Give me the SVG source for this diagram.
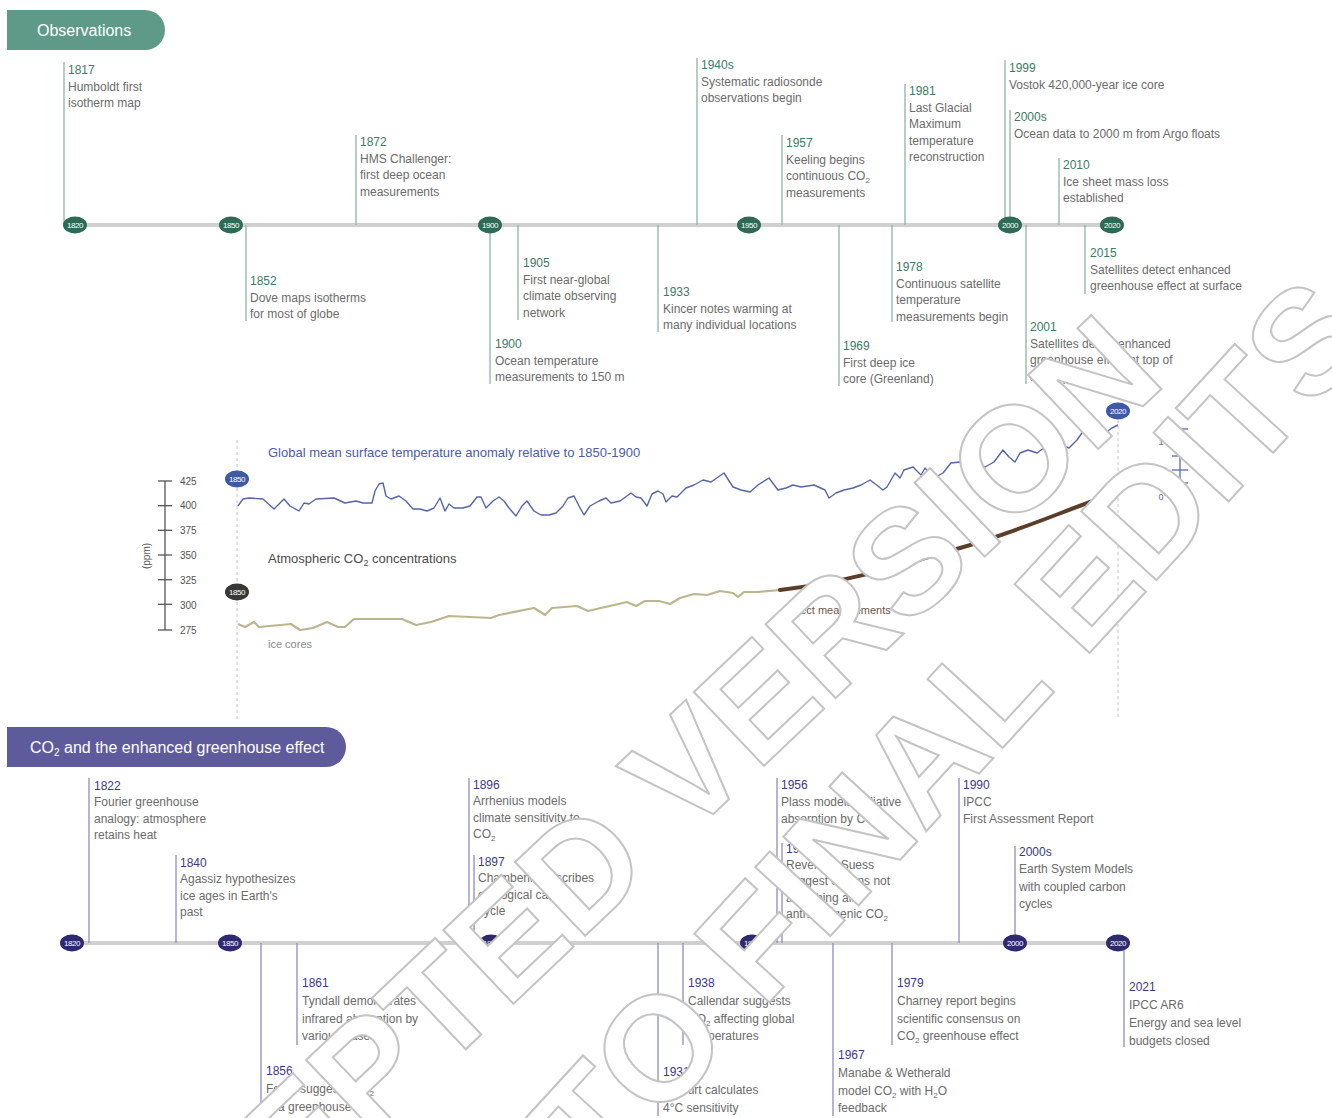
<svg xmlns="http://www.w3.org/2000/svg" width="1332" height="1118" viewBox="0 0 1332 1118">
<style>
text{font-family:"Liberation Sans",Arial,sans-serif}
.ds{font-size:12px;fill:#6b6b6b}
.yg{fill:#3d7a66}
.yp{fill:#3b3985}
.lg{stroke:#8fb3a8;stroke-width:1.3;fill:none}
.lp{stroke:#8e8cc0;stroke-width:1.3;fill:none}
.axis{stroke:#d0d0d0;stroke-width:4}
.bg{fill:#2f6a57}
.bp{fill:#2d2b6e}
.bt{font-size:8px;fill:#fff;text-anchor:middle;letter-spacing:-0.4px}
.tick{stroke:#555;stroke-width:1.3}
.tl{font-size:10px;fill:#555}
.wm{font-size:148px;font-weight:bold;fill:#fff;stroke:#c4c4c4;stroke-width:2}
</style>
<rect width="1332" height="1118" fill="#fff"/>

<!-- headers -->
<g id="hdr-obs">
<path d="M7,10 H145 A20,20 0 0 1 145,50 H7 Z" fill="#5f9a89"/>
<text x="37" y="36" font-size="16" fill="#fff">Observations</text>
</g>
<g id="hdr-co2">
<path d="M7,727 H326 A20,20 0 0 1 326,767 H7 Z" fill="#5e5b9d"/>
<text x="30" y="753" font-size="16" fill="#fff">CO<tspan font-size="10" baseline-shift="-3">2</tspan> and the enhanced greenhouse effect</text>
</g>

<!-- connectors: axes and event stems -->
<g id="connectors">
<line class="axis" x1="75" y1="225" x2="1112" y2="225"/>
<line class="axis" x1="72" y1="943" x2="1118" y2="943"/>
<line class="lg" x1="64" y1="62" x2="64" y2="225"/>
<line class="lg" x1="356" y1="135" x2="356" y2="225"/>
<line class="lg" x1="697" y1="58" x2="697" y2="225"/>
<line class="lg" x1="782" y1="135" x2="782" y2="225"/>
<line class="lg" x1="905" y1="84" x2="905" y2="225"/>
<line class="lg" x1="1005" y1="60" x2="1005" y2="225"/>
<line class="lg" x1="1010" y1="110" x2="1010" y2="225"/>
<line class="lg" x1="1059" y1="158" x2="1059" y2="225"/>
<line class="lg" x1="246" y1="225" x2="246" y2="321"/>
<line class="lg" x1="518" y1="225" x2="518" y2="320"/>
<line class="lg" x1="490" y1="225" x2="490" y2="384"/>
<line class="lg" x1="658" y1="225" x2="658" y2="332"/>
<line class="lg" x1="839" y1="225" x2="839" y2="386"/>
<line class="lg" x1="892" y1="225" x2="892" y2="322"/>
<line class="lg" x1="1026" y1="225" x2="1026" y2="384"/>
<line class="lg" x1="1085" y1="225" x2="1085" y2="294"/>
<line class="lp" x1="89" y1="778" x2="89" y2="943"/>
<line class="lp" x1="176" y1="855" x2="176" y2="943"/>
<line class="lp" x1="469" y1="778" x2="469" y2="943"/>
<line class="lp" x1="474" y1="855" x2="474" y2="943"/>
<line class="lp" x1="777" y1="778" x2="777" y2="943"/>
<line class="lp" x1="782" y1="843" x2="782" y2="943"/>
<line class="lp" x1="959" y1="778" x2="959" y2="943"/>
<line class="lp" x1="1015" y1="846" x2="1015" y2="943"/>
<line class="lp" x1="261" y1="943" x2="261" y2="1116"/>
<line class="lp" x1="297" y1="943" x2="297" y2="1045"/>
<line class="lp" x1="658" y1="943" x2="658" y2="1116"/>
<line class="lp" x1="683" y1="943" x2="683" y2="1045"/>
<line class="lp" x1="833" y1="943" x2="833" y2="1116"/>
<line class="lp" x1="892" y1="943" x2="892" y2="1045"/>
<line class="lp" x1="1124" y1="943" x2="1124" y2="1047"/>
</g>

<g id="badges-obs">
<ellipse class="bg" cx="75" cy="225" rx="12" ry="8.5"/><text class="bt" x="75" y="228">1820</text>
<ellipse class="bg" cx="231" cy="225" rx="12" ry="8.5"/><text class="bt" x="231" y="228">1850</text>
<ellipse class="bg" cx="490" cy="225" rx="12" ry="8.5"/><text class="bt" x="490" y="228">1900</text>
<ellipse class="bg" cx="749" cy="225" rx="12" ry="8.5"/><text class="bt" x="749" y="228">1950</text>
<ellipse class="bg" cx="1010" cy="225" rx="12" ry="8.5"/><text class="bt" x="1010" y="228">2000</text>
<ellipse class="bg" cx="1112" cy="225" rx="12" ry="8.5"/><text class="bt" x="1112" y="228">2020</text>
</g>
<g id="badges-co2">
<ellipse class="bp" cx="72" cy="943" rx="12" ry="8.5"/><text class="bt" x="72" y="946">1820</text>
<ellipse class="bp" cx="230" cy="943" rx="12" ry="8.5"/><text class="bt" x="230" y="946">1850</text>
<ellipse class="bp" cx="491" cy="943" rx="12" ry="8.5"/><text class="bt" x="491" y="946">1900</text>
<ellipse class="bp" cx="752" cy="943" rx="12" ry="8.5"/><text class="bt" x="752" y="946">1950</text>
<ellipse class="bp" cx="1015" cy="943" rx="12" ry="8.5"/><text class="bt" x="1015" y="946">2000</text>
<ellipse class="bp" cx="1118" cy="943" rx="12" ry="8.5"/><text class="bt" x="1118" y="946">2020</text>
</g>

<g id="ev-1817"><text class="ds" x="68" y="74"><tspan class="yg">1817</tspan><tspan x="68" dy="16.6">Humboldt first</tspan><tspan x="68" dy="16.6">isotherm map</tspan></text></g>
<g id="ev-1872"><text class="ds" x="360" y="146"><tspan class="yg">1872</tspan><tspan x="360" dy="16.6">HMS Challenger:</tspan><tspan x="360" dy="16.6">first deep ocean</tspan><tspan x="360" dy="16.6">measurements</tspan></text></g>
<g id="ev-1940s"><text class="ds" x="701" y="69"><tspan class="yg">1940s</tspan><tspan x="701" dy="16.6">Systematic radiosonde</tspan><tspan x="701" dy="16.6">observations begin</tspan></text></g>
<g id="ev-1957k"><text class="ds" x="786" y="147"><tspan class="yg">1957</tspan><tspan x="786" dy="16.6">Keeling begins</tspan><tspan x="786" dy="16.6">continuous CO<tspan font-size="8" baseline-shift="-3">2</tspan></tspan><tspan x="786" dy="16.6">measurements</tspan></text></g>
<g id="ev-1981"><text class="ds" x="909" y="95"><tspan class="yg">1981</tspan><tspan x="909" dy="16.6">Last Glacial</tspan><tspan x="909" dy="16.6">Maximum</tspan><tspan x="909" dy="16.6">temperature</tspan><tspan x="909" dy="16.6">reconstruction</tspan></text></g>
<g id="ev-1999"><text class="ds" x="1009" y="72"><tspan class="yg">1999</tspan><tspan x="1009" dy="16.6">Vostok 420,000-year ice core</tspan></text></g>
<g id="ev-2000s-o"><text class="ds" x="1014" y="121"><tspan class="yg">2000s</tspan><tspan x="1014" dy="16.6">Ocean data to 2000 m from Argo floats</tspan></text></g>
<g id="ev-2010"><text class="ds" x="1063" y="169"><tspan class="yg">2010</tspan><tspan x="1063" dy="16.6">Ice sheet mass loss</tspan><tspan x="1063" dy="16.6">established</tspan></text></g>
<g id="ev-1852"><text class="ds" x="250" y="285"><tspan class="yg">1852</tspan><tspan x="250" dy="16.6">Dove maps isotherms</tspan><tspan x="250" dy="16.6">for most of globe</tspan></text></g>
<g id="ev-1905"><text class="ds" x="523" y="267"><tspan class="yg">1905</tspan><tspan x="523" dy="16.6">First near-global</tspan><tspan x="523" dy="16.6">climate observing</tspan><tspan x="523" dy="16.6">network</tspan></text></g>
<g id="ev-1900"><text class="ds" x="495" y="348"><tspan class="yg">1900</tspan><tspan x="495" dy="16.6">Ocean temperature</tspan><tspan x="495" dy="16.6">measurements to 150 m</tspan></text></g>
<g id="ev-1933"><text class="ds" x="663" y="296"><tspan class="yg">1933</tspan><tspan x="663" dy="16.6">Kincer notes warming at</tspan><tspan x="663" dy="16.6">many individual locations</tspan></text></g>
<g id="ev-1969"><text class="ds" x="843" y="350"><tspan class="yg">1969</tspan><tspan x="843" dy="16.6">First deep ice</tspan><tspan x="843" dy="16.6">core (Greenland)</tspan></text></g>
<g id="ev-1978"><text class="ds" x="896" y="271"><tspan class="yg">1978</tspan><tspan x="896" dy="16.6">Continuous satellite</tspan><tspan x="896" dy="16.6">temperature</tspan><tspan x="896" dy="16.6">measurements begin</tspan></text></g>
<g id="ev-2001"><text class="ds" x="1030" y="331"><tspan class="yg">2001</tspan><tspan x="1030" dy="16.6">Satellites detect enhanced</tspan><tspan x="1030" dy="16.6">greenhouse effect at top of</tspan><tspan x="1030" dy="16.6">atmosphere</tspan></text></g>
<g id="ev-2015"><text class="ds" x="1090" y="257"><tspan class="yg">2015</tspan><tspan x="1090" dy="16.6">Satellites detect enhanced</tspan><tspan x="1090" dy="16.6">greenhouse effect at surface</tspan></text></g>

<g id="chart">
<line x1="237" y1="440" x2="237" y2="720" stroke="#c4c4c4" stroke-width="1" stroke-dasharray="3,3"/>
<line x1="1118" y1="420" x2="1118" y2="720" stroke="#c4c4c4" stroke-width="1" stroke-dasharray="3,3"/>
<g id="ppm-axis">
<line class="tick" x1="165" y1="481" x2="165" y2="630"/>
<line class="tick" x1="158" y1="481" x2="172" y2="481"/>
<line class="tick" x1="158" y1="505.7" x2="172" y2="505.7"/>
<line class="tick" x1="158" y1="530.3" x2="172" y2="530.3"/>
<line class="tick" x1="158" y1="555" x2="172" y2="555"/>
<line class="tick" x1="158" y1="579.7" x2="172" y2="579.7"/>
<line class="tick" x1="158" y1="604.3" x2="172" y2="604.3"/>
<line class="tick" x1="158" y1="630" x2="172" y2="630"/>
<text class="tl" x="180" y="485">425</text>
<text class="tl" x="180" y="509">400</text>
<text class="tl" x="180" y="534">375</text>
<text class="tl" x="180" y="559">350</text>
<text class="tl" x="180" y="584">325</text>
<text class="tl" x="180" y="609">300</text>
<text class="tl" x="180" y="634">275</text>
<text class="tl" transform="translate(150,556) rotate(-90)" text-anchor="middle" font-size="11">(ppm)</text>
</g>
<g id="temp-scale">
<line x1="1180" y1="429" x2="1180" y2="497" stroke="#5a6ab0" stroke-width="1.3"/>
<line x1="1172" y1="429" x2="1188" y2="429" stroke="#5a6ab0" stroke-width="1.3"/>
<line x1="1172" y1="442" x2="1188" y2="442" stroke="#5a6ab0" stroke-width="1.3"/>
<line x1="1172" y1="456" x2="1188" y2="456" stroke="#5a6ab0" stroke-width="1.3"/>
<line x1="1172" y1="470" x2="1188" y2="470" stroke="#5a6ab0" stroke-width="1.3"/>
<line x1="1172" y1="483" x2="1188" y2="483" stroke="#5a6ab0" stroke-width="1.3"/>
<line x1="1172" y1="497" x2="1188" y2="497" stroke="#5a6ab0" stroke-width="1.3"/>
<text x="1167" y="445" font-size="9" fill="#5a6ab0" text-anchor="end">1°</text>
<text x="1167" y="473" font-size="8" fill="#5a6ab0" text-anchor="end">0.5°</text>
<text x="1167" y="500" font-size="9" fill="#5a6ab0" text-anchor="end">0°</text>
<text transform="translate(1196,457) rotate(-90)" font-size="10" fill="#5a6ab0" text-anchor="middle">°C</text>
</g>
<text x="268" y="457" font-size="13" fill="#4b5ba8">Global mean surface temperature anomaly relative to 1850-1900</text>
<polyline fill="none" stroke="#5565a8" stroke-width="1.4" stroke-linejoin="round" points="237.9,506 243,499 249,498 263,499 274,509 284,499 290,506 299,511 304,503 309,504 316,499 334,498 345,503 356,501 363,503 372,503 375,491 379,484 383,483 386,496 391,499 399,496 406,501 413,509 420,509 427,511 434,508 440,498 445,511 449,504 454,508 463,508 470,506 477,497 481,497 486,508 493,501 499,497 504,501 509,508 516,516 522,506 527,501 534,511 541,515 549,515 556,513 563,506 568,498 574,496 579,506 584,515 590,506 599,501 606,498 611,503 620,501 631,493 636,497 641,498 647,506 652,494 658,491 663,494 666,502 672,496 677,497 686,488 694,485 703,480 711,482 724,473 733,487 741,490 750,492 758,485 769,478 778,490 786,488 793,485 801,487 814,485 825,490 829,498 836,493 844,490 853,488 861,485 870,480 874,483 883,490 887,487 891,480 895,473 900,478 904,470 913,467 921,475 925,468 934,478 943,473 951,463 960,462 966,465 973,472 979,463 985,467 994,462 1003,450 1009,457 1015,462 1020,453 1028,450 1037,453 1045,447 1054,448 1062,445 1069,448 1077,440 1084,430 1090,427 1097,432 1105,433 1112,428 1118,425"/>
<text x="268" y="563" font-size="13" fill="#4a4a4a">Atmospheric CO<tspan font-size="9" baseline-shift="-3">2</tspan> concentrations</text>
<polyline fill="none" stroke="#bdb590" stroke-width="2.2" stroke-linejoin="round" points="238,624 245,627 254,622 259,627 291,624 300,630 313,628 327,622 338,627 345,627 354,619 370,619 402,619 416,625 431,622 449,616 491,618 499,615 534,608 545,615 552,608 577,606 588,611 627,602 636,606 645,601 659,601 670,604 680,598 694,594 707,595 720,591 733,593 738,597 744,592 758,592 780,590"/>
<path d="M780,590 C850,582 900,565 960,548 S1060,512 1118,492" fill="none" stroke="#5b3e29" stroke-width="4" stroke-linecap="round"/>
<text x="268" y="648" font-size="11" fill="#8a8a8a">ice cores</text>
<text x="788" y="614" font-size="11" fill="#6e5444">direct measurements</text>
<ellipse cx="237" cy="479" rx="12" ry="8.5" fill="#3f5aa0"/><text class="bt" x="237" y="482">1850</text>
<ellipse cx="1118" cy="411" rx="12" ry="8.5" fill="#3f5aa0"/><text class="bt" x="1118" y="414">2020</text>
<ellipse cx="237" cy="592" rx="12" ry="8.5" fill="#3a3836"/><text class="bt" x="237" y="595">1850</text>
<ellipse cx="1118" cy="530" rx="12" ry="8.5" fill="#3a3836"/><text class="bt" x="1118" y="533">2020</text>
</g>

<g id="ev-1822"><text class="ds" x="94" y="790"><tspan class="yp">1822</tspan><tspan x="94" dy="16.4">Fourier greenhouse</tspan><tspan x="94" dy="16.4">analogy: atmosphere</tspan><tspan x="94" dy="16.4">retains heat</tspan></text></g>
<g id="ev-1840"><text class="ds" x="180" y="867"><tspan class="yp">1840</tspan><tspan x="180" dy="16.4">Agassiz hypothesizes</tspan><tspan x="180" dy="16.4">ice ages in Earth's</tspan><tspan x="180" dy="16.4">past</tspan></text></g>
<g id="ev-1896"><text class="ds" x="473" y="789"><tspan class="yp">1896</tspan><tspan x="473" dy="16.4">Arrhenius models</tspan><tspan x="473" dy="16.4">climate sensitivity to</tspan><tspan x="473" dy="16.4">CO<tspan font-size="8" baseline-shift="-3">2</tspan></tspan></text></g>
<g id="ev-1897"><text class="ds" x="478" y="866"><tspan class="yp">1897</tspan><tspan x="478" dy="16.4">Chamberlin describes</tspan><tspan x="478" dy="16.4">geological carbon</tspan><tspan x="478" dy="16.4">cycle</tspan></text></g>
<g id="ev-1956"><text class="ds" x="781" y="789"><tspan class="yp">1956</tspan><tspan x="781" dy="16.8">Plass models radiative</tspan><tspan x="781" dy="16.8">absorption by CO<tspan font-size="8" baseline-shift="-3">2</tspan></tspan></text></g>
<g id="ev-1957r"><text class="ds" x="786" y="853"><tspan class="yp">1957</tspan><tspan x="786" dy="16.2">Revelle &amp; Suess</tspan><tspan x="786" dy="16.2">suggest oceans not</tspan><tspan x="786" dy="16.2">absorbing all</tspan><tspan x="786" dy="16.2">anthropogenic CO<tspan font-size="8" baseline-shift="-3">2</tspan></tspan></text></g>
<g id="ev-1990"><text class="ds" x="963" y="789"><tspan class="yp">1990</tspan><tspan x="963" dy="16.8">IPCC</tspan><tspan x="963" dy="16.8">First Assessment Report</tspan></text></g>
<g id="ev-2000s-c"><text class="ds" x="1019" y="856"><tspan class="yp">2000s</tspan><tspan x="1019" dy="17.3">Earth System Models</tspan><tspan x="1019" dy="17.3">with coupled carbon</tspan><tspan x="1019" dy="17.3">cycles</tspan></text></g>
<g id="ev-1856"><text class="ds" x="266" y="1075"><tspan class="yp">1856</tspan><tspan x="266" dy="18">Foote suggests CO<tspan font-size="8" baseline-shift="-3">2</tspan></tspan><tspan x="266" dy="18">is a greenhouse gas</tspan></text></g>
<g id="ev-1861"><text class="ds" x="302" y="987"><tspan class="yp">1861</tspan><tspan x="302" dy="17.8">Tyndall demonstrates</tspan><tspan x="302" dy="17.8">infrared absorption by</tspan><tspan x="302" dy="17.8">various gases</tspan></text></g>
<g id="ev-1931"><text class="ds" x="663" y="1076"><tspan class="yp">1931</tspan><tspan x="663" dy="18">Hulburt calculates</tspan><tspan x="663" dy="18">4°C sensitivity</tspan></text></g>
<g id="ev-1938"><text class="ds" x="688" y="987"><tspan class="yp">1938</tspan><tspan x="688" dy="17.8">Callendar suggests</tspan><tspan x="688" dy="17.8">CO<tspan font-size="8" baseline-shift="-3">2</tspan> affecting global</tspan><tspan x="688" dy="17.8">temperatures</tspan></text></g>
<g id="ev-1967"><text class="ds" x="838" y="1059"><tspan class="yp">1967</tspan><tspan x="838" dy="17.8">Manabe &amp; Wetherald</tspan><tspan x="838" dy="17.8">model CO<tspan font-size="8" baseline-shift="-3">2</tspan> with H<tspan font-size="8" baseline-shift="-3">2</tspan>O</tspan><tspan x="838" dy="17.8">feedback</tspan></text></g>
<g id="ev-1979"><text class="ds" x="897" y="987"><tspan class="yp">1979</tspan><tspan x="897" dy="17.8">Charney report begins</tspan><tspan x="897" dy="17.8">scientific consensus on</tspan><tspan x="897" dy="17.8">CO<tspan font-size="8" baseline-shift="-3">2</tspan> greenhouse effect</tspan></text></g>
<g id="ev-2021"><text class="ds" x="1129" y="991"><tspan class="yp">2021</tspan><tspan x="1129" dy="18">IPCC AR6</tspan><tspan x="1129" dy="18">Energy and sea level</tspan><tspan x="1129" dy="18">budgets closed</tspan></text></g>

<g id="watermark">
<text class="wm" font-size="144" transform="translate(64.9,1429.5) rotate(-43.5)">ACCEPTED VERSION</text>
<text class="wm" transform="translate(103.5,1729.3) rotate(-47.5)">SUBJECT TO FINAL EDITS</text>
</g>
</svg>
